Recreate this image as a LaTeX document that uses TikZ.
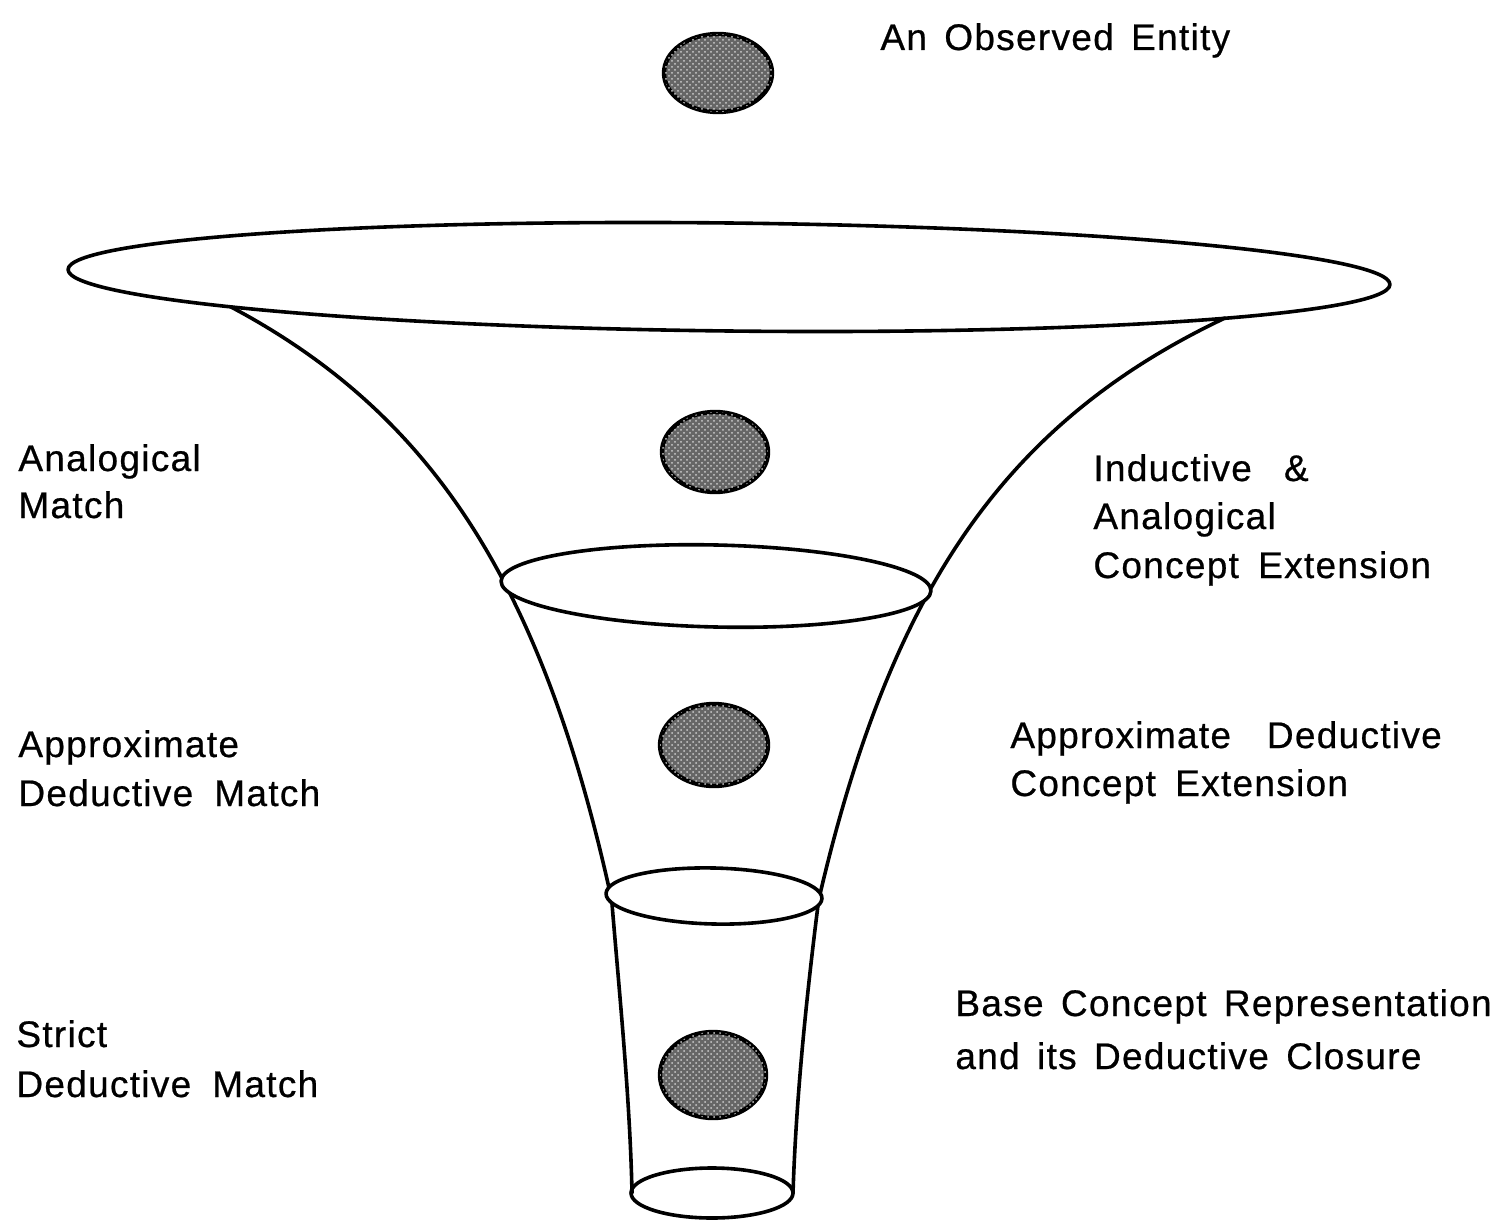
\documentclass[tikz,border=0pt]{standalone}
\usepackage{fontspec}
\setmainfont{Liberation Sans}[LetterSpace=3.5,WordSpace=1.5,FakeBold=0.6]
\usetikzlibrary{patterns}
\begin{document}
\begin{tikzpicture}[x=0.5pt,y=-0.5pt,
  outline/.style={line width=1.8pt,line join=round,line cap=round},
  entity/.style={line width=2.2pt,fill=black!60,postaction={pattern=crosshatch dots,pattern color=white!80!black}},
  lbl/.style={anchor=base west,inner sep=0pt,font=\fontsize{18.5pt}{22pt}\selectfont}]
\useasboundingbox (0,0) rectangle (1497,1219);
% funnel sides: flaring upper part
\draw[outline] plot[domain=307:900,samples=80,variable=\t,smooth] ({715-(-93.7+1773.24/\t*100)},\t)
  .. controls (620,1000) and (630,1100) .. (632,1193);
\draw[outline] plot[domain=318:900,samples=80,variable=\t,smooth] ({715+(-97.4+1749.18/(\t-30)*100)},\t)
  .. controls (806,1000) and (796,1100) .. (793,1193);
% rims
\draw[outline,shift={(729,277)},rotate=-0.65] (0,0) ellipse [x radius=661,y radius=54];
\draw[outline,fill=white,shift={(716,586)},rotate=-1.3] (0,0) ellipse [x radius=215,y radius=41];
\draw[outline,fill=white,shift={(714,896)},rotate=-1.3] (0,0) ellipse [x radius=108,y radius=28];
\draw[outline,shift={(712,1193)}] (0,0) ellipse [x radius=81,y radius=25];
% entities
\draw[entity] (718,73) ellipse [x radius=54,y radius=39];
\draw[entity] (715,452) ellipse [x radius=53,y radius=40];
\draw[entity] (714,745) ellipse [x radius=54,y radius=41];
\draw[entity] (713,1075) ellipse [x radius=53,y radius=43];
% labels
\node[lbl] (obs) at (880,50) {An Observed Entity};
\node[lbl] (am1) at (18,471) {Analogical};
\node[lbl] (am2) at (18,518) {Match};
\node[lbl] (adm1) at (18,757) {Approximate};
\node[lbl] (adm2) at (18,806) {Deductive\hspace{0.1em} Match};
\node[lbl] (sdm1) at (16,1047) {Strict};
\node[lbl] (sdm2) at (16,1097) {Deductive\hspace{0.1em} Match};
\node[lbl] (iac1) at (1093,481) {Inductive\hspace{0.4em} \&};
\node[lbl] (iac2) at (1093,529) {Analogical};
\node[lbl] (iac3) at (1093,578) {Concept\hspace{0.05em} Extension};
\node[lbl] (adc1) at (1010,748) {Approximate\hspace{0.5em} Deductive};
\node[lbl] (adc2) at (1010,796) {Concept\hspace{0.05em} Extension};
\node[lbl] (bcr1) at (955,1016) {Base Concept Representation};
\node[lbl] (bcr2) at (955,1069) {and its Deductive Closure};
\end{tikzpicture}
\end{document}
